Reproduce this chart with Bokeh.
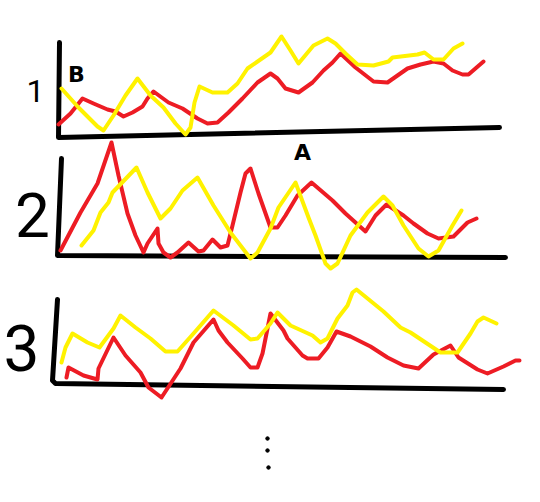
from bokeh.plotting import figure
from bokeh.models import Range1d
from bokeh.core.properties import value
from bokeh.embed import file_html
from bokeh.resources import INLINE

RED = "#ed1c24"
YELLOW = "#fff200"
BLACK = "#000000"

red1_x = [58,70,82,93,107,115,123,132,142,147,153,168,182,197,207,217,228,242,257,270,277,285,298,312,323,332,340,355,373,387,407,420,433,443,452,462,468,483]
red1_y = [124,113,98,103,109,111,116,112,106,98,91,102,108,118,123,122,112,98,82,73,78,88,92,82,70,62,53,67,81,82,68,64,61,63,70,74,74,61]
yel1_x = [61,78,97,103,113,125,137,150,163,175,185,190,194,199,212,227,237,247,270,281,290,298,313,327,335,345,357,373,388,392,417,424,433,443,453,462]
yel1_y = [88,107,126,130,115,95,78,95,107,123,134,127,102,86,92,92,83,68,52,36,50,63,45,38,43,53,64,65,61,57,54,52,59,59,48,43]

red2_x = [60,80,97,111,118,127,135,143,147,157,158,163,170,177,188,198,203,212,220,227,232,240,245,250,258,270,277,285,297,311,332,345,365,375,386,403,413,427,438,453,467,476]
red2_y = [250,212,183,142,175,213,235,252,243,228,243,252,257,252,242,251,250,239,247,245,225,192,173,168,193,227,227,215,195,182,200,213,231,215,204,215,223,233,238,236,222,218]
yel2_x = [81,93,100,108,112,136,147,160,170,182,197,213,230,250,257,270,278,295,308,315,325,330,337,350,367,383,392,403,418,428,438,452,461]
yel2_y = [245,230,212,202,192,167,192,218,208,190,177,205,232,258,252,228,207,182,217,235,263,268,263,235,212,196,205,225,248,256,250,225,210]

red3_x = [66,68,83,97,98,113,125,140,148,161,180,193,213,218,227,242,250,257,262,270,283,287,302,307,318,327,336,350,370,387,403,418,433,450,458,477,487,503,515,519]
red3_y = [377,367,375,379,368,337,355,372,387,397,368,342,319,330,342,358,367,367,353,313,330,338,355,358,358,347,331,336,346,357,365,368,354,345,357,369,373,366,360,360]
yel3_x = [61,65,72,87,99,113,120,135,150,165,177,193,213,233,250,257,270,277,290,312,320,327,337,347,352,356,383,400,410,440,457,470,477,483,496]
yel3_y = [362,347,333,342,347,328,315,327,338,351,351,333,310,325,339,338,323,312,325,335,342,338,318,305,292,289,311,327,332,352,352,333,321,317,323]

axis1_x = [59,58,499]
axis1_y = [42,137,127]
axis2_x = [61,57,505]
axis2_y = [158,255,257]
axis3_x = [57,52,55,503]
axis3_y = [299,380,383,389]

dots_x = [267,267,268]
dots_y = [438,450,467]

labels = ["1", "2", "3", "A", "B"]
label_x = [35,32,21,302,76]
label_y = [90,214,347,152,74]
label_size = ["32px", "62px", "64px", "22px", "22px"]
label_font = ["Roboto", "Roboto", "Roboto", "DejaVu Sans", "DejaVu Sans"]
label_style = ["normal", "normal", "normal", "bold", "bold"]

p = figure(width=524, height=486, output_backend="svg", toolbar_location=None,
           x_range=Range1d(0, 524), y_range=Range1d(486, 0),
           min_border=0, outline_line_color=None)
p.xaxis.visible = False
p.yaxis.visible = False
p.grid.visible = False

for ax, ay in [(axis1_x, axis1_y), (axis2_x, axis2_y), (axis3_x, axis3_y)]:
    p.line(ax, ay, line_color=BLACK, line_width=5, line_join="round", line_cap="round")

for rx, ry, yx, yy in [(red1_x, red1_y, yel1_x, yel1_y),
                       (red2_x, red2_y, yel2_x, yel2_y),
                       (red3_x, red3_y, yel3_x, yel3_y)]:
    p.line(rx, ry, line_color=RED, line_width=4, line_join="round", line_cap="round")
    p.line(yx, yy, line_color=YELLOW, line_width=4, line_join="round", line_cap="round")

p.scatter(dots_x, dots_y, size=3.5, color=BLACK)

for t, x, y, s, f, st in zip(labels, label_x, label_y, label_size, label_font, label_style):
    p.text([x], [y], text=[t], text_font=value(f), text_font_size=s, text_font_style=st,
           text_align="center", text_baseline="middle", text_color=BLACK)

open("out.html", "w").write(file_html(p, INLINE))
